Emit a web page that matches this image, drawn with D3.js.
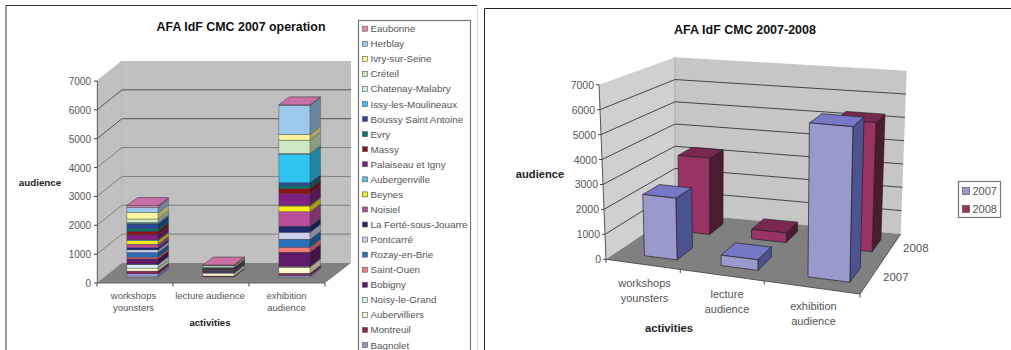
<!DOCTYPE html>
<html>
<head>
<meta charset="utf-8">
<script src="https://cdn.jsdelivr.net/npm/d3@7/dist/d3.min.js"></script>
<style>
html,body{margin:0;padding:0;background:#fff;overflow:hidden}
svg{display:block}
text{font-family:"Liberation Sans",Arial,sans-serif}
</style>
</head>
<body>
<svg id="chart" width="1011" height="350"></svg>
<script>
// Municipalities, listed from the bottom of the stack to the top.
const towns = ["Bagnolet","Montreuil","Aubervilliers","Noisy-le-Grand","Bobigny","Saint-Ouen","Rozay-en-Brie","Pontcarré","La Ferté-sous-Jouarre","Noisiel","Beynes","Aubergenville","Palaiseau et Igny","Massy","Evry","Boussy Saint Antoine","Issy-les-Moulineaux","Chatenay-Malabry","Créteil","Ivry-sur-Seine","Herblay","Eaubonne"];
const townColors = ["#9494cf","#8f2459","#fdfad0","#d4f4f4","#5f1a6a","#f47b7b","#2a70b8","#ccccec","#20296f","#b94d9c","#f5ea14","#58c4d8","#7f2180","#8b1518","#00766f","#2c4a9c","#2fc4f2","#cdf0f0","#cfe8c4","#fdf39b","#9cc8ec","#e58ab8"];
const workshops = [115,90,105,125,195,60,160,90,70,125,125,25,175,125,90,160,30,30,115,220,185,60];
const lectures = [10,25,85,30,25,5,10,5,30,15,5,5,20,15,20,15,5,5,55,15,10,5];
const exhibitions = [60,70,210,25,495,175,275,240,210,505,195,25,405,175,115,90,990,25,460,195,1015,10];

const activities = ["workshops younsters","lecture audience","exhibition audience"];
const years = ["2007","2008"];
const totals2007 = [2475,415,5965];
const totals2008 = [3250,400,5300];
const yearColors = {"2007":{front:"#9999cc",side:"#4d5391",top:"#7777c8"},"2008":{front:"#993366",side:"#4d1a33",top:"#7a2850"}};
const valueTicks = [0,1000,2000,3000,4000,5000,6000,7000];

const svg = d3.select("#chart");
const shade = (c,k)=>d3.rgb(c).darker(k).formatHex();
const pathOf = pts => "M"+pts.map(p=>p.join(",")).join("L")+"Z";

function multiline(sel, x, y, lines, step){
  const t = sel.append("text").attr("text-anchor","middle").attr("x",x).attr("y",y);
  lines.forEach((l,i)=>t.append("tspan").attr("x",x).attr("dy",i?step:0).text(l));
  return t;
}

// Surrounding frames of the two panels
svg.append("path").attr("d","M6,350V5.5H477").attr("fill","none").attr("stroke","#333").attr("stroke-width",1);
svg.append("path").attr("d","M477.5,6V350").attr("fill","none").attr("stroke","#ddd");
svg.append("path").attr("d","M484.5,350V8.5H1011").attr("fill","none").attr("stroke","#222").attr("stroke-width",1);

// ---- Oblique stacked panel ----
(function(){
  const g = svg.append("g");
  const y = d3.scaleLinear().domain([0,7000]).range([283,81]);
  const x = d3.scaleBand().domain(activities).range([97,325]).paddingInner(0.59).paddingOuter(0.295);
  const dx = 25, dy = -20;          // offset from front to back of the box
  const barDx = 10.5, barDy = -8;   // depth of a column
  const lift = -6, shift = 7.5;     // columns sit in the middle of the floor
  const x0 = 97, x1 = 325;

  g.append("path").attr("d",pathOf([[x0,y(7000)],[x0+dx,y(7000)+dy],[x0+dx,y(0)+dy],[x0,y(0)]])).attr("fill","#c0c0c0").attr("stroke","#a8a8a8").attr("stroke-width",.6);
  g.append("path").attr("d",pathOf([[x0+dx,y(7000)+dy],[x1+dx+1,y(7000)+dy],[x1+dx+1,y(0)+dy],[x0+dx,y(0)+dy]])).attr("fill","#c0c0c0");
  g.append("path").attr("d",pathOf([[x0,y(0)],[x0+dx,y(0)+dy],[x1+dx+1,y(0)+dy],[x1,y(0)]])).attr("fill","#808080");

  valueTicks.slice(1,7).forEach(v=>{
    g.append("path").attr("d",`M${x0},${y(v)}L${x0+dx},${y(v)+dy}H${x1+dx+1}`).attr("fill","none")
      .attr("stroke",v>=5000?"#555":"#777").attr("stroke-width",v>=5000?1:.9);
  });
  g.append("path").attr("d",`M${x0+.5},${y(7000)}V${y(0)}H${x1}`).attr("fill","none").attr("stroke","#666");

  valueTicks.forEach(v=>{
    g.append("path").attr("d",`M${x0-3},${y(v)}H${x0}`).attr("stroke","#444");
    g.append("text").attr("x",91).attr("y",y(v)+4).attr("text-anchor","end").attr("font-size",10).attr("fill","#555").text(v);
  });
  [0,1,2,3].forEach(i=>{
    const tx = x0 + i*(x1-x0)/3;
    g.append("path").attr("d",`M${tx},${y(0)}v3.5`).attr("stroke","#444");
  });

  const series = [workshops,lectures,exhibitions];
  activities.forEach((a,i)=>{
    let acc = 0;
    const bx = x(a)+shift, bw = x.bandwidth();
    towns.forEach((t,j)=>{
      const v = series[i][j];
      const b = y(acc)+lift, tp = y(acc+v)+lift;
      acc += v;
      const c = townColors[j];
      g.append("rect").attr("x",bx).attr("y",tp).attr("width",bw).attr("height",b-tp).attr("fill",c).attr("stroke","#333").attr("stroke-width",.35);
      g.append("path").attr("d",pathOf([[bx+bw,b],[bx+bw+barDx,b+barDy],[bx+bw+barDx,tp+barDy],[bx+bw,tp]])).attr("fill",shade(c,1.1)).attr("stroke","#333").attr("stroke-width",.3);
      if(j===towns.length-1){
        g.append("path").attr("d",pathOf([[bx,tp],[bx+barDx,tp+barDy],[bx+bw+barDx,tp+barDy],[bx+bw,tp]])).attr("fill","#c86fa6").attr("stroke","#333").attr("stroke-width",.5);
      }
    });
  });

  const lab = g.append("g").attr("font-size",9.5).attr("fill","#555");
  multiline(lab,133.5,298.5,["workshops","younsters"],12.5);
  multiline(lab,210,298.5,["lecture audience"],12.5);
  multiline(lab,286.5,298.5,["exhibition","audience"],12.5);
  g.append("text").attr("x",40).attr("y",185.5).attr("text-anchor","middle").attr("font-size",9.8).attr("font-weight","bold").attr("fill","#222").text("audience");
  g.append("text").attr("x",210).attr("y",325.5).attr("text-anchor","middle").attr("font-size",9.6).attr("font-weight","bold").attr("fill","#222").text("activities");
  g.append("text").attr("x",241).attr("y",31).attr("text-anchor","middle").attr("font-size",12.4).attr("font-weight","bold").attr("fill","#111").text("AFA IdF CMC 2007 operation");

  // Legend, top entry is the top of the stack
  const legend = svg.append("g");
  legend.append("rect").attr("x",358.5).attr("y",20.5).attr("width",112).attr("height",345).attr("fill","#fff").attr("stroke","#777").attr("stroke-width",1.2);
  const ly = d3.scalePoint().domain(towns.slice().reverse()).range([28.7,345]);
  towns.forEach((t,j)=>{
    legend.append("rect").attr("x",362.5).attr("y",ly(t)-2.5).attr("width",5).attr("height",5).attr("fill",townColors[j]).attr("stroke","#555").attr("stroke-width",.6);
    legend.append("text").attr("x",370.5).attr("y",ly(t)+3.5).attr("font-size",9.8).attr("fill","#555").text(t);
  });
})();

// ---- Perspective clustered panel ----
(function(){
  const g = svg.append("g");
  // Screen positions of the box corners
  const floorQuad = [[606,259.3],[860,294],[900.7,234],[675,213]];
  const ceilQuad  = [[599,84.7],[864,107],[906.7,70.7],[675,57.3]];

  // Unit-square to quadrilateral perspective mapping
  function homography(q){
    const [[x0,y0],[x1,y1],[x2,y2],[x3,y3]] = q;
    const dx1=x1-x2, dx2=x3-x2, sx=x0-x1+x2-x3, dy1=y1-y2, dy2=y3-y2, sy=y0-y1+y2-y3;
    const det=dx1*dy2-dx2*dy1;
    const g_=(sx*dy2-dx2*sy)/det, h_=(dx1*sy-sx*dy1)/det;
    const a=x1-x0+g_*x1, b=x3-x0+h_*x3, c=x0, d=y1-y0+g_*y1, e=y3-y0+h_*y3, f=y0;
    return (u,w)=>{const k=g_*u+h_*w+1;return [(a*u+b*w+c)/k,(d*u+e*w+f)/k];};
  }
  const floorAt = homography(floorQuad), ceilAt = homography(ceilQuad);
  const v01 = d3.scaleLinear().domain([0,7000]).range([0,1]);
  const project = (u,w,v)=>{
    const a=floorAt(u,w), b=ceilAt(u,w), t=v01(v);
    return [a[0]+(b[0]-a[0])*t, a[1]+(b[1]-a[1])*t];
  };
  const ux = d3.scaleBand().domain(activities).range([0,1]).paddingInner(0.56).paddingOuter(0.28).align(0.7);
  const uz = d3.scaleBand().domain(years).range([0,1]).paddingInner(0.55).paddingOuter(0.275);

  // Walls and floor
  g.append("path").attr("d",pathOf([project(0,0,7000),project(0,1,7000),project(0,1,0),project(0,0,0)])).attr("fill","#d0d0d0");
  g.append("path").attr("d",pathOf([project(0,1,7000),project(1,1,7000),project(1,1,0),project(0,1,0)])).attr("fill","#c6c6c6");
  g.append("path").attr("d",pathOf([project(0,0,0),project(0,1,0),project(1,1,0),project(1,0,0)])).attr("fill","#808080");
  g.append("path").attr("d",`M${project(0,1,7000)}L${project(0,1,0)}`).attr("stroke","#aaa");

  valueTicks.slice(1,7).forEach(v=>{
    g.append("path").attr("d",`M${project(0,0,v)}L${project(0,1,v)}L${project(1,1,v)}`).attr("fill","none").attr("stroke","#333").attr("stroke-width",.9);
  });
  g.append("path").attr("d",`M${project(0,0,7000)}L${project(0,0,0)}L${project(1,0,0)}L${project(1,1,0)}`).attr("fill","none").attr("stroke","#555");

  valueTicks.forEach(v=>{
    const p = project(0,0,v);
    g.append("path").attr("d",`M${p[0]-3},${p[1]}h3`).attr("stroke","#444");
    g.append("text").attr("x",p[0]-5).attr("y",p[1]+4).attr("text-anchor","end").attr("font-size",10.5).attr("fill","#555").text(v);
  });
  [0,1,2,3].forEach(i=>{
    const p = project(i/3,0,0);
    g.append("path").attr("d",`M${p[0]},${p[1]}v3.5`).attr("stroke","#444");
  });

  // Back row first so the front row covers it
  const drawBar = (a,yr,v)=>{
    const u0=ux(a), u1=u0+ux.bandwidth(), w0=uz(yr), w1=w0+uz.bandwidth();
    const c=yearColors[yr];
    const st=s=>s.attr("stroke","#222").attr("stroke-width",.7);
    st(g.append("path").attr("d",pathOf([project(u1,w0,0),project(u1,w1,0),project(u1,w1,v),project(u1,w0,v)])).attr("fill",c.side));
    st(g.append("path").attr("d",pathOf([project(u0,w0,v),project(u1,w0,v),project(u1,w1,v),project(u0,w1,v)])).attr("fill",c.top));
    st(g.append("path").attr("d",pathOf([project(u0,w0,0),project(u1,w0,0),project(u1,w0,v),project(u0,w0,v)])).attr("fill",c.front));
  };
  activities.forEach((a,i)=>drawBar(a,"2008",totals2008[i]));
  activities.forEach((a,i)=>drawBar(a,"2007",totals2007[i]));

  const lab = g.append("g").attr("font-size",11).attr("fill","#555");
  multiline(lab,644.5,287,["workshops","younsters"],14.5);
  multiline(lab,727,298,["lecture","audience"],14.5);
  multiline(lab,813.5,310,["exhibition","audience"],14.5);
  lab.append("text").attr("x",903).attr("y",252).attr("font-size",11.5).text("2008");
  lab.append("text").attr("x",883).attr("y",281).attr("font-size",11.5).text("2007");
  g.append("text").attr("x",540).attr("y",178).attr("text-anchor","middle").attr("font-size",11.2).attr("font-weight","bold").attr("fill","#222").text("audience");
  g.append("text").attr("x",669).attr("y",332).attr("text-anchor","middle").attr("font-size",11.2).attr("font-weight","bold").attr("fill","#222").text("activities");
  g.append("text").attr("x",745).attr("y",34).attr("text-anchor","middle").attr("font-size",12.5).attr("font-weight","bold").attr("fill","#111").text("AFA IdF CMC 2007-2008");

  const legend = svg.append("g");
  legend.append("rect").attr("x",958.5).attr("y",181.5).attr("width",42).attr("height",36).attr("fill","#fff").attr("stroke","#777").attr("stroke-width",1.2);
  const ly = d3.scalePoint().domain(years).range([191,209]);
  years.forEach(yr=>{
    legend.append("rect").attr("x",962.5).attr("y",ly(yr)-3.5).attr("width",7).attr("height",7).attr("fill",yearColors[yr].front).attr("stroke","#444").attr("stroke-width",.6);
    legend.append("text").attr("x",972.5).attr("y",ly(yr)+4).attr("font-size",11).attr("fill","#555").text(yr);
  });
})();
</script>
</body>
</html>
